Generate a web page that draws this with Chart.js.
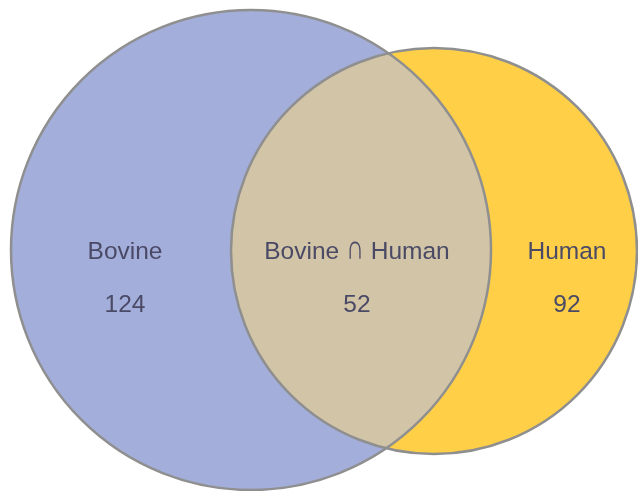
<!DOCTYPE html>
<html>
<head>
<meta charset="utf-8">
<script src="https://cdn.jsdelivr.net/npm/chart.js@4"></script>
<style>
  html, body { margin: 0; padding: 0; background: #fff; }
  #wrap { width: 638px; height: 491px; }
</style>
</head>
<body>
<div id="wrap"><canvas id="venn"></canvas></div>
<script>
// venn data
const setNames = ['Bovine', 'Human'];
const regionLabels = ['Bovine', 'Bovine \u2229 Human', 'Human'];
const regionCounts = [124, 52, 92];

// circle layout in axis units (plot area is 638 x 491 units, 1 unit = 1 px)
const circleX = [251, 434];
const circleY = [250, 251];
const circleR = [240, 203];
const labelX = [125, 357, 567];
const labelY = [250, 303];

const fillColors = ['#A3AEDA', '#FECF47'];
const overlapColor = '#D2C4A7';
const edgeColor = '#8F8F8F';
const textColor = '#4A4A66';
const textFont = '24.5px "Liberation Sans", Arial, sans-serif';
const symbolFont = '200 25px "DejaVu Sans", sans-serif';

const circles = setNames.map((name, i) => ({ x: circleX[i], y: circleY[i], r: circleR[i] }));

// draw a label centred on x; the set symbol is stretched up to cap height
function drawLabel(ctx, text, x, y) {
  const parts = text.split(/(\u2229)/).filter(s => s.length);
  const widths = parts.map(p => {
    ctx.font = p === '\u2229' ? symbolFont : textFont;
    return ctx.measureText(p).width;
  });
  let cur = x - widths.reduce((a, b) => a + b, 0) / 2;
  const base = y + 8.5;
  ctx.textAlign = 'left';
  ctx.textBaseline = 'alphabetic';
  parts.forEach((p, i) => {
    if (p === '\u2229') {
      ctx.save();
      ctx.font = symbolFont;
      ctx.translate(cur, base);
      ctx.scale(1, 1.38);
      ctx.fillText(p, 0, 0);
      ctx.restore();
    } else {
      ctx.font = textFont;
      ctx.fillText(p, cur, base);
    }
    cur += widths[i];
  });
}

const vennPlugin = {
  id: 'vennOverlay',
  afterDatasetsDraw(chart) {
    const ctx = chart.ctx;
    const pts = chart.getDatasetMeta(0).data;
    const xs = chart.scales.x, ys = chart.scales.y;
    const rad = i => pts[i].options.radius;

    // overlap region
    ctx.save();
    ctx.beginPath();
    ctx.arc(pts[0].x, pts[0].y, rad(0), 0, Math.PI * 2);
    ctx.clip();
    ctx.beginPath();
    ctx.arc(pts[1].x, pts[1].y, rad(1), 0, Math.PI * 2);
    ctx.fillStyle = overlapColor;
    ctx.fill();
    ctx.restore();

    // outlines on top
    ctx.save();
    ctx.strokeStyle = edgeColor;
    ctx.lineWidth = 2.5;
    pts.forEach((p, i) => {
      ctx.beginPath();
      ctx.arc(p.x, p.y, rad(i), 0, Math.PI * 2);
      ctx.stroke();
    });

    // labels and counts
    ctx.fillStyle = textColor;
    regionLabels.forEach((lab, i) => {
      const px = xs.getPixelForValue(labelX[i]);
      drawLabel(ctx, lab, px, ys.getPixelForValue(labelY[0]));
      drawLabel(ctx, String(regionCounts[i]), px, ys.getPixelForValue(labelY[1]));
    });
    ctx.restore();
  }
};

new Chart(document.getElementById('venn'), {
  type: 'bubble',
  data: {
    datasets: [{
      label: 'Sets',
      data: circles,
      backgroundColor: fillColors,
      borderWidth: 0,
      clip: false
    }]
  },
  options: {
    responsive: true,
    maintainAspectRatio: false,
    animation: false,
    events: [],
    layout: { padding: 0, autoPadding: false },
    scales: {
      x: { type: 'linear', min: 0, max: 638, display: false },
      y: { type: 'linear', min: 0, max: 491, reverse: true, display: false }
    },
    plugins: {
      legend: { display: false },
      tooltip: { enabled: false },
      title: { display: false }
    }
  },
  plugins: [vennPlugin]
});
</script>
</body>
</html>
